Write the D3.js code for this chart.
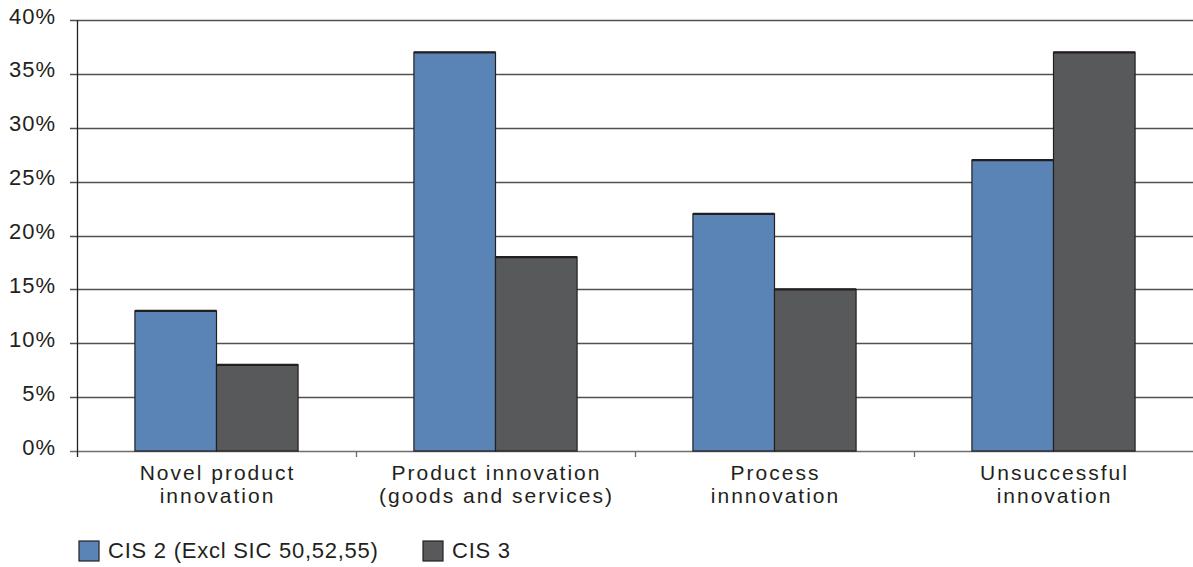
<!DOCTYPE html>
<html>
<head>
<meta charset="utf-8">
<script src="https://cdn.jsdelivr.net/npm/d3@7"></script>
<style>
  html, body { margin: 0; padding: 0; background: #fff; }
  svg { display: block; font-family: "Liberation Sans", Arial, sans-serif; }
</style>
</head>
<body>
<svg id="chart" width="1193" height="567"></svg>
<script>
// Share of firms by innovation type, two survey waves
const categories = [
  ["Novel product", "innovation"],
  ["Product innovation", "(goods and services)"],
  ["Process", "innnovation"],
  ["Unsuccessful", "innovation"]
];
const seriesNames = ["CIS 2 (Excl SIC 50,52,55)", "CIS 3"];
const cis2 = [13, 37, 22, 27];
const cis3 = [8, 18, 15, 37];
const yTicks = [0, 5, 10, 15, 20, 25, 30, 35, 40];
const colors = ["#5b84b6", "#58595b"];

const svg = d3.select("#chart");
const margin = { left: 77, top: 20 };
const W = 1193;
const plotBottom = 451;
const textColor = "#231f20";

const x = d3.scaleBand()
  .domain(d3.range(categories.length))
  .range([margin.left, W])
  .paddingInner(0)
  .paddingOuter(0);

const x1 = d3.scaleBand()
  .domain([0, 1])
  .range([0, x.bandwidth()])
  .paddingOuter(0.71)
  .paddingInner(0);

const y = d3.scaleLinear().domain([0, 40]).range([plotBottom, margin.top]);

// horizontal gridlines
svg.append("g")
  .selectAll("line")
  .data(yTicks)
  .join("line")
  .attr("x1", 70).attr("x2", W)
  .attr("y1", d => Math.round(y(d)) + 0.5)
  .attr("y2", d => Math.round(y(d)) + 0.5)
  .attr("stroke", d => d === 0 ? "#6d6e70" : "#505050")
  .attr("stroke-width", 1.3);

// y tick labels
svg.append("g")
  .selectAll("text")
  .data(yTicks)
  .join("text")
  .attr("x", 56)
  .attr("y", d => y(d) + 3.5)
  .attr("text-anchor", "end")
  .attr("font-size", 22)
  .attr("letter-spacing", 1)
  .attr("fill", textColor)
  .text(d => d + "%");

// bars
const series = [cis2, cis3];
const g = svg.append("g");
categories.forEach((c, i) => {
  series.forEach((vals, s) => {
    const bx = x(i) + x1(s);
    const by = y(vals[i]);
    g.append("rect")
      .attr("x", bx).attr("y", by)
      .attr("width", x1.bandwidth())
      .attr("height", y(0) - by)
      .attr("fill", colors[s])
      .attr("stroke", "#231f20")
      .attr("stroke-width", 1.2);
    g.append("line")
      .attr("x1", bx).attr("x2", bx + x1.bandwidth())
      .attr("y1", by).attr("y2", by)
      .attr("stroke", "#231f20")
      .attr("stroke-width", 2.2);
  });
});

// y axis line
svg.append("line")
  .attr("x1", margin.left + 0.5).attr("x2", margin.left + 0.5)
  .attr("y1", margin.top).attr("y2", plotBottom + 6)
  .attr("stroke", "#231f20").attr("stroke-width", 1.3);

// x axis ticks at band boundaries
svg.append("g")
  .selectAll("line")
  .data(d3.range(1, categories.length))
  .join("line")
  .attr("x1", d => x(d) + 0.5).attr("x2", d => x(d) + 0.5)
  .attr("y1", plotBottom).attr("y2", plotBottom + 6)
  .attr("stroke", "#6d6e70").attr("stroke-width", 1.3);

// category labels, two lines each
const labels = svg.append("g");
categories.forEach((c, i) => {
  c.forEach((line, k) => {
    labels.append("text")
      .attr("text-anchor", "middle")
      .attr("font-size", 21)
      .attr("letter-spacing", 2)
      .attr("fill", textColor)
      .attr("x", x(i) + x.bandwidth() / 2 + 1)
      .attr("y", 480 + k * 23)
      .text(line);
  });
});

// legend
const legendX = [79, 423];
const leg = svg.append("g");
seriesNames.forEach((name, s) => {
  leg.append("rect")
    .attr("x", legendX[s]).attr("y", 541)
    .attr("width", 20).attr("height", 20)
    .attr("fill", colors[s])
    .attr("stroke", "#231f20").attr("stroke-width", 1.2);
  leg.append("text")
    .attr("x", legendX[s] + 29).attr("y", 558)
    .attr("font-size", 22)
    .attr("letter-spacing", 0.75)
    .attr("fill", textColor)
    .text(name);
});
</script>
</body>
</html>
